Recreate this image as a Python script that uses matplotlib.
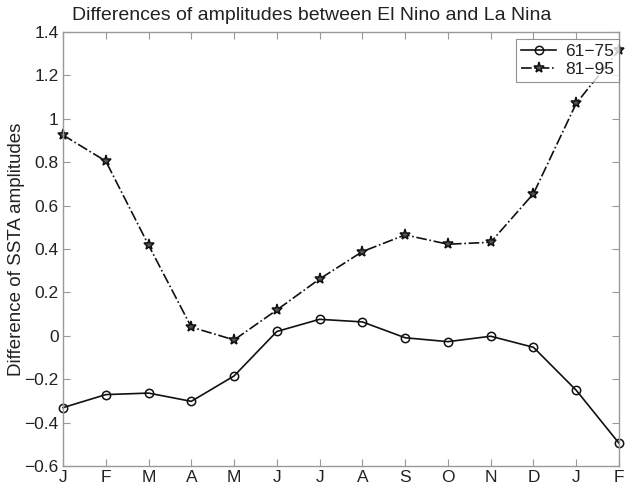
import matplotlib
matplotlib.use("Agg")
import matplotlib.pyplot as plt
import numpy as np

plt.rcParams['font.family'] = ['Liberation Sans', 'DejaVu Sans']

months = ['J', 'F', 'M', 'A', 'M', 'J', 'J', 'A', 'S', 'O', 'N', 'D', 'J', 'F']
s6175 = [-0.331, -0.271, -0.264, -0.302, -0.185, 0.020, 0.076, 0.064, -0.009, -0.027, -0.002, -0.053, -0.251, -0.495]
s8195 = [0.925, 0.805, 0.418, 0.040, -0.019, 0.119, 0.262, 0.388, 0.465, 0.422, 0.431, 0.655, 1.071, 1.317]
yticks = [-0.6, -0.4, -0.2, 0, 0.2, 0.4, 0.6, 0.8, 1, 1.2, 1.4]
ytick_labels = ['\u22120.6', '\u22120.4', '\u22120.2', '0', '0.2', '0.4', '0.6', '0.8', '1', '1.2', '1.4']

fig = plt.figure(figsize=(6.39, 4.93), dpi=100)
ax = fig.add_axes([63/639, 27/493, 556/639, 434/493])

x = np.arange(1, len(months) + 1)
ax.plot(x, s6175, color='#111111', linestyle='-', linewidth=1.2, marker='o',
        markersize=6, markerfacecolor='none', markeredgecolor='#111111',
        markeredgewidth=1.1, label='61\u221275', clip_on=False)
ax.plot(x, s8195, color='#111111', linestyle='-.', linewidth=1.2, marker='*',
        markersize=8, markerfacecolor='#555555', markeredgecolor='#111111',
        markeredgewidth=1.1, label='81\u221295', clip_on=False)

ax.set_xlim(1, len(months))
ax.set_ylim(-0.6, 1.4)
ax.set_xticks(x)
ax.set_xticklabels(months)
ax.set_yticks(yticks)
ax.set_yticklabels(ytick_labels)

for sp in ax.spines.values():
    sp.set_color('#999999')
    sp.set_linewidth(1.0)
ax.tick_params(direction='in', length=5, width=0.8, color='#999999',
               top=True, right=True, labelsize=12.5, labelcolor='#222222', pad=3)

ax.set_ylabel('Difference of SSTA amplitudes', fontsize=13.5, color='#222222', labelpad=0)
fig.text(312/639, 1 - 16/493, 'Differences of amplitudes between El Nino and La Nina',
         ha='center', va='center', fontsize=14, color='#222222')

leg = ax.legend(loc='upper right', bbox_to_anchor=(1.0, 1 - 7/434), borderaxespad=0,
                fontsize=12.5, frameon=True, fancybox=False, handlelength=2.0,
                handletextpad=0.5, borderpad=0.3, labelspacing=0.15)
leg.get_frame().set_edgecolor('#777777')
leg.get_frame().set_linewidth(0.8)
leg.set_zorder(10)
for t in leg.get_texts():
    t.set_color('#222222')

fig.savefig('out.png', dpi=100)
